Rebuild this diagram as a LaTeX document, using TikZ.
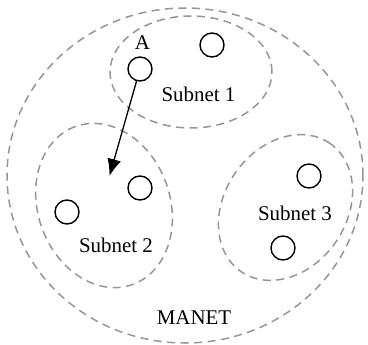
\documentclass[tikz,border=0pt]{standalone}
\usepackage{fontspec}
\setmainfont{Liberation Serif}
\usetikzlibrary{arrows.meta}
\definecolor{dashgray}{RGB}{150,150,150}
\tikzset{
  region/.style={draw=dashgray, line width=1.5bp, dash pattern=on 8bp off 5.5bp},
  host/.style={circle, draw=black, line width=1.4bp, minimum size=24bp, inner sep=0pt},
  lbl/.style={anchor=base, inner sep=0pt, font=\fontsize{21}{24}\selectfont},
  move/.style={line width=1.3bp, -{Latex[length=17bp,width=14bp]}}
}
\begin{document}
\begin{tikzpicture}[x=1bp,y=1bp]
\useasboundingbox (0,0) rectangle (368,345);
% regions
\draw[region] (185,169.5) ellipse [x radius=178, y radius=167.5];
\draw[region] (191,273) ellipse [x radius=81, y radius=56];
\draw[region, rotate around={110:(104,139.5)}] (104,139.5) ellipse [x radius=84, y radius=66];
\draw[region, rotate around={55:(285.5,137.5)}] (285.5,137.5) ellipse [x radius=78, y radius=61];
% hosts
\node[host] (a) at (140,276) {};
\node[host] (s1b) at (212,300) {};
\node[host] (s2a) at (140,157) {};
\node[host] (s2b) at (67,133) {};
\node[host] (s3a) at (309,169) {};
\node[host] (s3b) at (283,97) {};
% labels
\node[lbl] (la) at (142.5,296) {A};
\node[lbl] (l1) at (198.5,244) {Subnet 1};
\node[lbl] (l2) at (116,93) {Subnet 2};
\node[lbl] (l3) at (295,125) {Subnet 3};
\node[lbl] (lm) at (194,21) {MANET};
% movement
\coordinate (tip) at (109.5,169);
\draw[move] (a) -- (tip);
\end{tikzpicture}
\end{document}
